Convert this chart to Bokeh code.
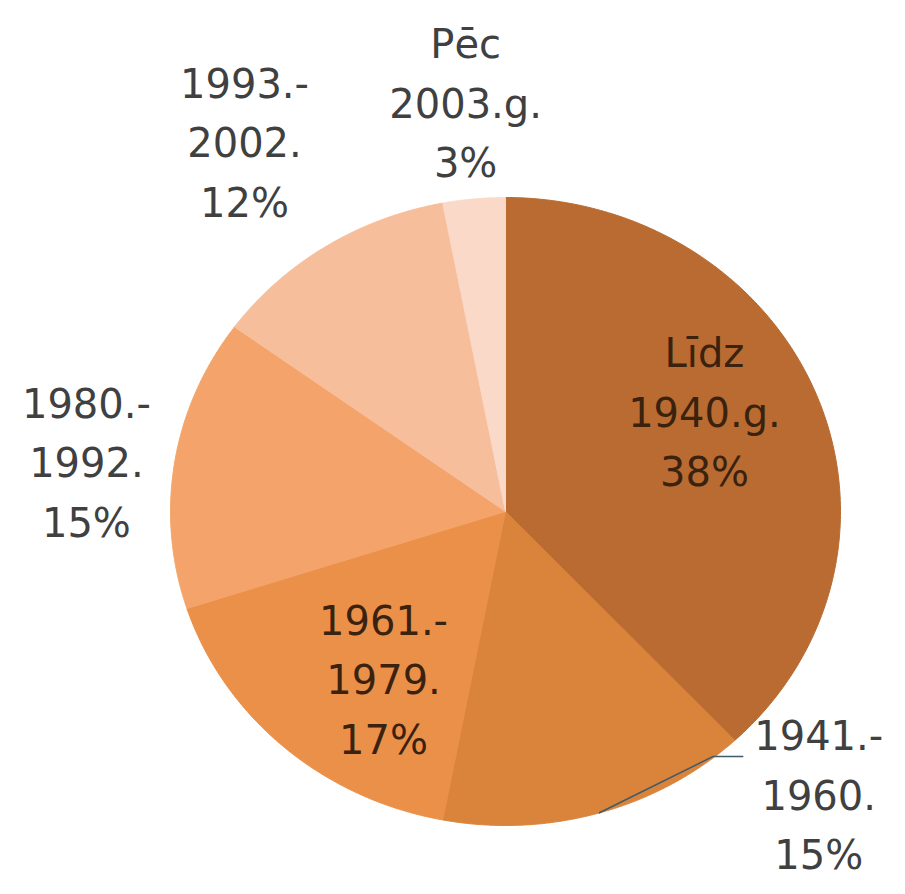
import numpy as np
from bokeh.plotting import figure
from bokeh.models import ColumnDataSource, Range1d
from bokeh.core.properties import value
from bokeh.embed import file_html
from bokeh.resources import INLINE

# ---- data ----
categories = ["Līdz\n1940.g.", "1941.-\n1960.", "1961.-\n1979.", "1980.-\n1992.", "1993.-\n2002.", "Pēc\n2003.g."]
shares = [38, 15, 17, 15, 12, 3]
colors = ["#B96B31", "#DA833B", "#EA9049", "#F4A46A", "#F7BE9C", "#FAD9C8"]

# label placement (in pie-radius units) and styling
label_x = [0.594, 0.935, -0.364, -1.251, -0.779, -0.119]
label_y = [0.315, -0.905, -0.538, 0.153, 1.172, 1.299]
label_colors = ["#3A220F", "#404040", "#3A220F", "#404040", "#404040", "#404040"]

# figure geometry: 1 unit = 335 px horizontally, 314 px vertically
W, H = 889, 878
p = figure(width=W, height=H, output_backend="svg", toolbar_location=None,
           x_range=Range1d(-1.5075, 1.1463), y_range=Range1d(-1.1688, 1.6274),
           min_border=0, outline_line_color=None)
p.axis.visible = False
p.grid.visible = False
p.background_fill_color = "white"
p.border_fill_color = "white"

total = float(sum(shares))
fr = np.cumsum([0] + shares) / total
xs, ys = [], []
for i in range(len(shares)):
    t = np.linspace(fr[i], fr[i + 1], 200) * 2 * np.pi
    xs.append(np.concatenate([[0.0], np.sin(t), [0.0]]))
    ys.append(np.concatenate([[0.0], np.cos(t), [0.0]]))

src = ColumnDataSource(dict(xs=xs, ys=ys, color=colors))
p.patches("xs", "ys", source=src, fill_color="color", line_color="color", line_width=1)

# leader line for the 1941.-1960. slice
mid = (fr[1] + fr[2]) / 2 * 2 * np.pi
p.line([np.sin(mid), 0.62, 0.71], [np.cos(mid), -0.78, -0.78],
       line_color="#3F5A6A", line_width=1.5)

texts = [f"{c}\n{s}%" for c, s in zip(categories, shares)]
lsrc = ColumnDataSource(dict(x=label_x, y=label_y, text=texts, c=label_colors))
p.text("x", "y", text="text", source=lsrc, text_color="c",
       text_align="center", text_baseline="middle",
       text_font=value("DejaVu Sans"), text_font_size="40px", text_line_height=1.3)

open("out.html", "w").write(file_html(p, INLINE))
